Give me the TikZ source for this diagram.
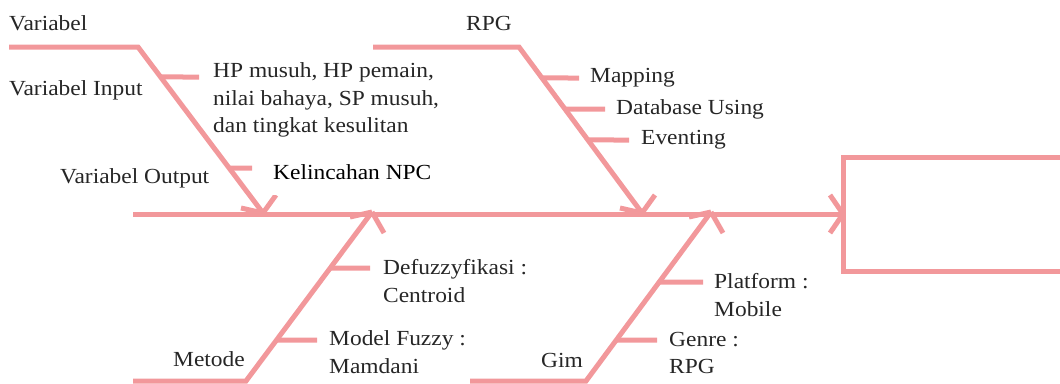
\documentclass[tikz,border=0pt]{standalone}
\usepackage{fontspec}
\setmainfont{Liberation Serif}[FakeStretch=1.09]
\usetikzlibrary{calc}
\definecolor{bonecol}{RGB}{242,152,155}
\definecolor{txtcol}{RGB}{38,38,38}
\begin{document}
\begin{tikzpicture}[x=1pt,y=-1pt,
  bone/.style={draw=bonecol,line width=5pt},
  lbl/.style={font=\fontsize{21.5}{27.5}\selectfont,text=txtcol,inner sep=0pt,anchor=west,align=left}]
\clip (0,0) rectangle (1060,383);
% result box and spine
\node[draw=bonecol,line width=5pt,outer sep=0pt,minimum width=260pt,minimum height=114pt,anchor=west] (result) at (843,214) {};
\coordinate (s0) at (133,214);
\draw[bone] (s0) -- (result.west);
\draw[bone] (result.west) -- ++(-13,-19);
\draw[bone] (result.west) -- ++(-13,19);
% --- Variabel bone
\coordinate (v0) at (9,47);
\coordinate (v1) at (138,47);
\coordinate (vt) at (263,213);
\draw[bone] (v0) -- (v1) -- (vt);
\draw[bone] (vt) -- ++(-22,-5);
\draw[bone] (vt) -- ++(13,-18);
\coordinate (va) at ($(v1)!0.1807!(vt)$);
\coordinate (vae) at (199,77);
\coordinate (vb) at ($(v1)!0.7289!(vt)$);
\coordinate (vbe) at (252,168);
\draw[bone] (va) -- (vae);
\draw[bone] (vb) -- (vbe);
% --- RPG bone
\coordinate (r0) at (373,47);
\coordinate (r1) at (519,47);
\coordinate (rt) at (642,213);
\draw[bone] (r0) -- (r1) -- (rt);
\draw[bone] (rt) -- ++(-22,-5);
\draw[bone] (rt) -- ++(13,-18);
\coordinate (ra) at ($(r1)!0.1867!(rt)$);
\coordinate (rae) at (579,78);
\coordinate (rb) at ($(r1)!0.3735!(rt)$);
\coordinate (rbe) at (605,109);
\coordinate (rc) at ($(r1)!0.5602!(rt)$);
\coordinate (rce) at (629,140);
\draw[bone] (ra) -- (rae);
\draw[bone] (rb) -- (rbe);
\draw[bone] (rc) -- (rce);
% --- Metode bone
\coordinate (m0) at (133,381);
\coordinate (m1) at (246,381);
\coordinate (mt) at (372,212);
\draw[bone] (m0) -- (m1) -- (mt);
\draw[bone] (mt) -- ++(-22,5);
\draw[bone] (mt) -- ++(12,21);
\coordinate (ma) at ($(m1)!0.6686!(mt)$);
\coordinate (mae) at (370,268);
\coordinate (mb) at ($(m1)!0.2426!(mt)$);
\coordinate (mbe) at (317,340);
\draw[bone] (ma) -- (mae);
\draw[bone] (mb) -- (mbe);
% --- Gim bone
\coordinate (g0) at (470,381);
\coordinate (g1) at (586,381);
\coordinate (gt) at (711,212);
\draw[bone] (g0) -- (g1) -- (gt);
\draw[bone] (gt) -- ++(-22,5);
\draw[bone] (gt) -- ++(12,21);
\coordinate (ga) at ($(g1)!0.5858!(gt)$);
\coordinate (gae) at (703,282);
\coordinate (gb) at ($(g1)!0.2426!(gt)$);
\coordinate (gbe) at (657,340);
\draw[bone] (ga) -- (gae);
\draw[bone] (gb) -- (gbe);
% --- labels
\node[lbl] (tvar) at (9,23) {Variabel};
\node[lbl] (tvin) at (9,90) {Variabel Input};
\node[lbl] (tvout) at (60,178) {Variabel Output};
\node[lbl] (tinput) at (213,100) {HP musuh, HP pemain,\\nilai bahaya, SP musuh,\\dan tingkat kesulitan};
\node[lbl,text=black,fill=white,inner xsep=20pt,inner ysep=15pt] (toutput) at (253,172) {Kelincahan NPC};
\node[lbl] (trpg) at (466,23) {RPG};
\node[lbl] (tmap) at (590,78) {Mapping};
\node[lbl] (tdb) at (616,109) {Database Using};
\node[lbl] (tevt) at (641,140) {Eventing};
\node[lbl] (tmet) at (173,359) {Metode};
\node[lbl] (tdef) at (383,281) {Defuzzyfikasi :\\Centroid};
\node[lbl] (tmod) at (329,352) {Model Fuzzy :\\Mamdani};
\node[lbl] (tgim) at (541,360) {Gim};
\node[lbl] (tplat) at (714,295) {Platform :\\Mobile};
\node[lbl] (tgen) at (669,353) {Genre :\\RPG};
\end{tikzpicture}
\end{document}
